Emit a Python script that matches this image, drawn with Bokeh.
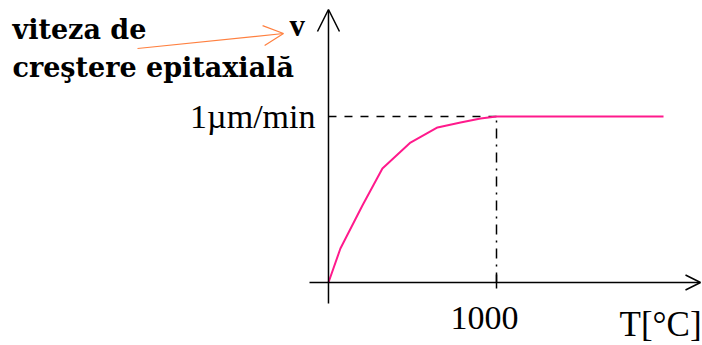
from bokeh.plotting import figure
from bokeh.models import Range1d, Arrow, OpenHead
from bokeh.core.properties import value
from bokeh.embed import file_html
from bokeh.resources import INLINE

# Growth rate curve: temperature [°C] vs epitaxial growth rate [µm/min]
T_curve = [0, 71, 202, 321, 488, 649, 786, 905, 1000, 1994]
v_curve = [0.0, 0.205, 0.464, 0.687, 0.843, 0.934, 0.964, 0.988, 1.0, 1.0]

T_mark = 1000          # saturation temperature
v_mark = 1.0           # saturation rate
x_tick_label = "1000"
y_tick_label = "1\u00b5m/min"
x_axis_label = "T[\u00b0C]"
y_axis_label = "v"
note_lines = ["viteza de", "cre\u015ftere epitaxial\u0103"]

W, H = 702, 345
x0, x1 = -1952, 2226
y0, y1 = -0.3795, 1.699

p = figure(width=W, height=H, x_range=Range1d(x0, x1), y_range=Range1d(y0, y1),
           output_backend="svg", toolbar_location=None, min_border=0,
           outline_line_color=None, background_fill_color="white")
p.axis.visible = False
p.grid.visible = False


def dx(px):
    return x0 + (x1 - x0) * px / W


def dy(py):
    return y1 - (y1 - y0) * py / H


SERIF = value("Liberation Serif")
WIDE_SERIF = value("DejaVu Serif")

# axes drawn as arrows
p.add_layout(Arrow(end=OpenHead(size=15, line_width=1.5, line_color="black"),
                   x_start=dx(309), y_start=0, x_end=dx(700), y_end=0,
                   line_width=1.5, line_color="black"))
p.add_layout(Arrow(end=OpenHead(size=22, line_width=1.5, line_color="black"),
                   x_start=0, y_start=dy(303), x_end=0, y_end=dy(9),
                   line_width=1.5, line_color="black"))

# guides to the saturation point
p.line([0, T_mark], [v_mark, v_mark], line_color="black", line_width=1.5, line_dash="8 8")
p.line([T_mark, T_mark], [0, v_mark], line_color="black", line_width=1.5, line_dash="10 6 2 6")
p.line([T_mark, T_mark], [dy(288), dy(274)], line_color="black", line_width=1.5)

# growth rate curve
p.line(T_curve, v_curve, line_color="#ff1a8c", line_width=2)

# tick labels
p.text(x=[0], y=[v_mark], text=[y_tick_label], text_font=SERIF, text_font_size="34px",
       text_align="right", text_baseline="middle", x_offset=-13, text_color="black")
p.text(x=[T_mark], y=[0], text=[x_tick_label], text_font=SERIF, text_font_size="34px",
       text_align="center", text_baseline="middle", x_offset=-12, y_offset=35,
       text_color="black")
p.text(x=[dx(619)], y=[0], text=[x_axis_label], text_font=SERIF, text_font_size="35px",
       text_align="left", text_baseline="middle", y_offset=42, text_color="black")
p.text(x=[dx(289)], y=[dy(25)], text=[y_axis_label], text_font=SERIF, text_font_size="31px",
       text_font_style="bold", text_align="left", text_baseline="middle", text_color="black")

# annotation
p.text(x=[dx(12), dx(12)], y=[dy(29), dy(67)], text=note_lines, text_font=WIDE_SERIF,
       text_font_size="27px", text_font_style="bold", text_align="left",
       text_baseline="middle", text_color="black")
p.add_layout(Arrow(end=OpenHead(size=20, line_width=1.2, line_color="#ff8040"),
                   x_start=dx(137), y_start=dy(48), x_end=dx(283), y_end=dy(33),
                   line_width=1.2, line_color="#ff8040"))

open("out.html", "w").write(file_html(p, INLINE))
